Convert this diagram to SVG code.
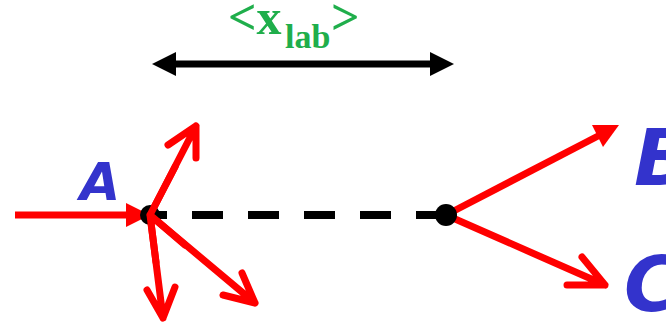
<svg xmlns="http://www.w3.org/2000/svg" width="666" height="322" viewBox="0 0 666 322">
<style>
.red{stroke:#ff0000;stroke-width:7;fill:none;stroke-linecap:round;stroke-linejoin:round}
.redfill{fill:#ff0000}
.lbl{font-family:"DejaVu Sans",sans-serif;font-weight:bold;font-style:italic;fill:#3333cc}
.green{font-family:"Liberation Serif",serif;font-weight:bold;fill:#1fae4b}
</style>
<rect width="666" height="322" fill="#ffffff"/>
<g id="connectors">
  <g id="range-arrow">
    <line x1="170" y1="64" x2="436" y2="64" stroke="#000" stroke-width="7"/>
    <polygon points="152,64 176,52 176,76" fill="#000"/>
    <polygon points="454,64 430,52 430,76" fill="#000"/>
  </g>
  <line id="dashed" x1="150" y1="215" x2="446" y2="215" stroke="#000" stroke-width="8" stroke-dasharray="31 25" stroke-dashoffset="14"/>
  <g id="incoming">
    <line x1="15" y1="215" x2="130" y2="215" stroke="#ff0000" stroke-width="7"/>
    <polygon class="redfill" points="150,215 126,203 126,227"/>
  </g>
  <path class="red" d="M150,215 L196,126 M168,145 L196,126 L196,158"/>
  <path class="red" d="M150,215 L163,318 M147,290 L163,318 L175,287"/>
  <path class="red" d="M150,215 L255,303 M223,295 L255,303 L242,273"/>
  <g id="to-B">
    <line x1="446" y1="215" x2="600" y2="135" stroke="#ff0000" stroke-width="7"/>
    <polygon class="redfill" points="619,125 603,147 592,125"/>
  </g>
  <path class="red" d="M446,215 L605,285 M567,285 L605,285 L582,257"/>
</g>
<g id="vertexA"><circle cx="150" cy="215" r="10" fill="#000"/></g>
<g id="vertexB"><circle cx="446" cy="215" r="11" fill="#000"/></g>
<g id="redraw-over-dot">
  <path class="red" d="M150,215 L175,167 M150,215 L156,262 M150,215 L185,245"/>
</g>
<g id="labelX"><text class="green" x="228" y="34" font-size="50">&lt;x<tspan x="285" y="48" font-size="34">lab</tspan><tspan x="331" y="34">&gt;</tspan></text></g>
<g id="labelA"><text class="lbl" x="80" y="200" font-size="52">A</text></g>
<g id="labelB"><text class="lbl" x="634" y="185" font-size="78">B</text></g>
<g id="labelC"><text class="lbl" x="624" y="311" font-size="76">C</text></g>
</svg>
